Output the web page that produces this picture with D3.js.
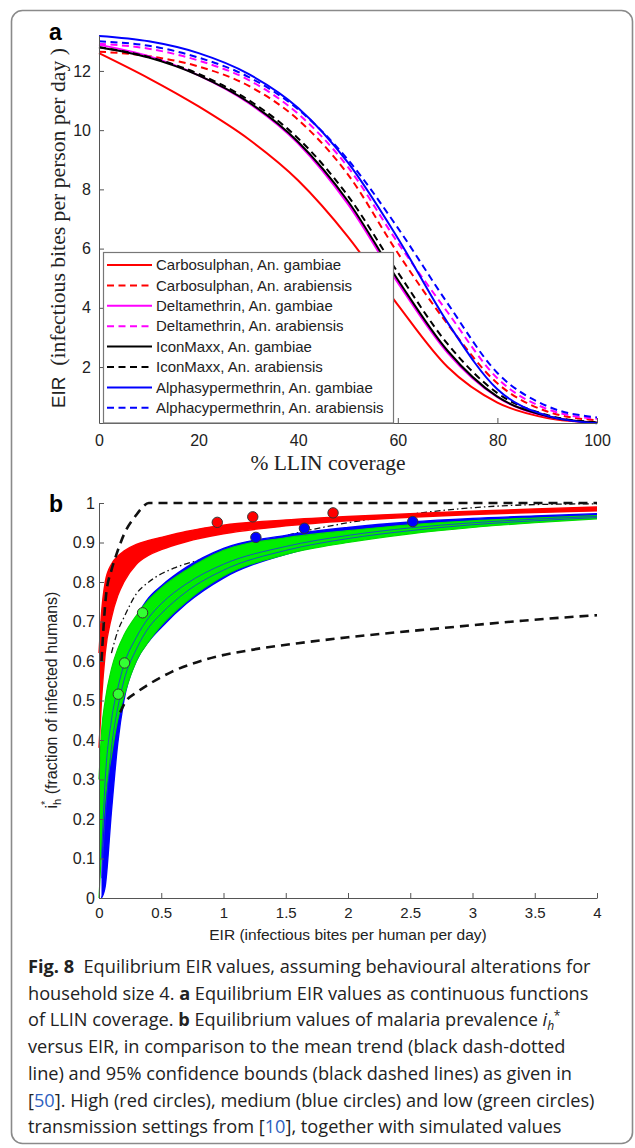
<!DOCTYPE html>
<html><head><meta charset="utf-8">
<script src="https://cdn.jsdelivr.net/npm/d3@7"></script>
<style>
body{margin:0;background:#fff}
svg{display:block}
text{white-space:pre}
</style>
</head><body>
<svg id="c" width="635" height="1148"></svg>
<script>
// ---------------- DATA: panel a ----------------
const coverage = [0,10,20,30,40,50,60,70,80,90,100];
const carbosulphanGambiae    = [12.6, 11.75, 10.8, 9.7, 8.3, 6.4, 4.1, 2.0, 0.8, 0.28, 0.12];
const carbosulphanArabiensis = [12.65, 12.5, 12.15, 11.5, 10.35, 8.5, 5.85, 3.45, 1.45, 0.5, 0.2];
const deltamethrinGambiae    = [12.88, 12.5, 11.85, 10.92, 9.55, 7.5, 4.85, 2.48, 0.98, 0.33, 0.12];
const deltamethrinArabiensis = [12.92, 12.75, 12.35, 11.7, 10.55, 8.75, 6.2, 3.85, 1.62, 0.58, 0.25];
const iconMaxxGambiae        = [12.8, 12.45, 11.85, 10.95, 9.6, 7.6, 4.95, 2.55, 1.0, 0.34, 0.12];
const iconMaxxArabiensis     = [12.8, 12.47, 11.9, 11.02, 9.72, 7.78, 5.2, 2.78, 1.12, 0.38, 0.13];
const alphaGambiae           = [13.18, 13.0, 12.6, 11.9, 10.75, 8.9, 6.35, 3.5, 1.25, 0.36, 0.1];
const alphaArabiensis        = [13.0, 12.85, 12.45, 11.8, 10.7, 9.0, 6.7, 4.15, 1.8, 0.68, 0.3];
const legendNames = ["Carbosulphan, An. gambiae","Carbosulphan, An. arabiensis","Deltamethrin, An. gambiae",
  "Deltamethrin, An. arabiensis","IconMaxx, An. gambiae","IconMaxx, An. arabiensis",
  "Alphasypermethrin, An. gambiae","Alphacypermethrin, An. arabiensis"];
const xTicksA = [0,20,40,60,80,100];
const yTicksA = [2,4,6,8,10,12];

// ---------------- DATA: panel b ----------------
const eirGrid   = [0, 0.02, 0.05, 0.1, 0.15, 0.2, 0.3, 0.4, 0.5, 0.7, 1.0, 1.5, 2.0, 2.5, 3.0, 3.5, 4.0];
const redUpper  = [0.62, 0.72, 0.80, 0.845, 0.865, 0.878, 0.895, 0.905, 0.913, 0.928, 0.944, 0.957, 0.966, 0.973, 0.979, 0.985, 0.990];
const redLower  = [0.38, 0.50, 0.62, 0.71, 0.765, 0.80, 0.845, 0.868, 0.882, 0.902, 0.922, 0.942, 0.955, 0.964, 0.971, 0.976, 0.980];
const greenUpper= [0.30, 0.42, 0.50, 0.58, 0.63, 0.665, 0.715, 0.755, 0.785, 0.83, 0.88, 0.912, 0.93, 0.945, 0.955, 0.962, 0.968];
const greenLower= [0.0, 0.12, 0.25, 0.36, 0.45, 0.51, 0.60, 0.65, 0.69, 0.75, 0.815, 0.87, 0.90, 0.922, 0.938, 0.95, 0.96];
const blueUpper = [null, 0.22, 0.40, 0.50, 0.58, 0.64, 0.71, 0.76, 0.79, 0.837, 0.885, 0.918, 0.938, 0.952, 0.961, 0.967, 0.973];
const blueLower = [null, 0.0, 0.03, 0.22, 0.39, 0.50, 0.60, 0.65, 0.685, 0.745, 0.81, 0.87, 0.905, 0.927, 0.942, 0.953, 0.962];
const blueInnerA= [null, 0.10, 0.30, 0.45, 0.53, 0.59, 0.66, 0.71, 0.745, 0.795, 0.845, 0.89, 0.918, 0.937, 0.95, 0.959, 0.966];
const blueInnerB= [null, 0.05, 0.20, 0.38, 0.48, 0.55, 0.63, 0.685, 0.72, 0.775, 0.83, 0.88, 0.91, 0.93, 0.945, 0.955, 0.963];
const meanEIR   = [0.1, 0.15, 0.2, 0.3, 0.4, 0.6, 0.8, 1.0, 1.3, 1.6, 2.0, 2.5, 3.0, 3.5, 4.0];
const meanPrev  = [0.62, 0.675, 0.71, 0.77, 0.80, 0.835, 0.855, 0.873, 0.90, 0.925, 0.95, 0.972, 0.988, 0.996, 0.998];
const upperEIR  = [0.02, 0.056, 0.1, 0.136, 0.2, 0.3, 0.337, 0.4, 4.0];
const upperPrev = [0.60, 0.765, 0.83, 0.866, 0.92, 0.97, 0.985, 1.0, 1.0];
const lowerEIR  = [0.17, 0.21, 0.3, 0.38, 0.58, 0.87, 1.22, 1.6, 2.0, 2.78, 3.4, 4.0];
const lowerPrev = [0.47, 0.495, 0.52, 0.537, 0.572, 0.605, 0.628, 0.645, 0.66, 0.684, 0.702, 0.716];
const highEIR   = [0.95, 1.235, 1.88];
const highPrev  = [0.951, 0.965, 0.975];
const mediumEIR = [1.26, 1.65, 2.52];
const mediumPrev= [0.913, 0.936, 0.953];
const lowEIR    = [0.155, 0.205, 0.35];
const lowPrev   = [0.516, 0.595, 0.722];
const xTicksB = [0,0.5,1,1.5,2,2.5,3,3.5,4];
const xTickLabelsB = ["0","0.5","1","1.5","2","2.5","3","3.5","4"];
const yTicksB = [0,0.1,0.2,0.3,0.4,0.5,0.6,0.7,0.8,0.9,1];
const yTickLabelsB = ["0","0.1","0.2","0.3","0.4","0.5","0.6","0.7","0.8","0.9","1"];

// ---------------- DRAWING ----------------
const svg = d3.select("#c");
const SANS = "'Liberation Sans', Arial, sans-serif";
const SERIF = "'Liberation Serif', 'Times New Roman', serif";
const CAP = "'Open Sans', 'Noto Sans', sans-serif";
const AX = "#555";

svg.append("rect").attr("x",11.5).attr("y",10.5).attr("width",621).attr("height",1133)
  .attr("rx",11).attr("fill","none").attr("stroke","#8a8a8a").attr("stroke-width",1.6);

// ---------- panel a ----------
const xa = d3.scaleLinear().domain([0,100]).range([99,597]);
const ya = d3.scaleLinear().domain([0.11,13.2]).range([423,35.4]);
const ga = svg.append("g");

const seriesA = [
  {v:carbosulphanGambiae, c:"#ff0000", d:null},
  {v:carbosulphanArabiensis, c:"#ff0000", d:"7,4.5"},
  {v:deltamethrinGambiae, c:"#ff00ff", d:null},
  {v:deltamethrinArabiensis, c:"#ff00ff", d:"7,4.5"},
  {v:iconMaxxGambiae, c:"#000000", d:null},
  {v:iconMaxxArabiensis, c:"#000000", d:"7,4.5"},
  {v:alphaGambiae, c:"#0000ff", d:null},
  {v:alphaArabiensis, c:"#0000ff", d:"7,4.5"}
];
const lineA = d3.line().x((d,i)=>xa(coverage[i])).y(d=>ya(d)).curve(d3.curveMonotoneX);
seriesA.forEach(s=>{
  ga.append("path").attr("d",lineA(s.v)).attr("fill","none").attr("stroke",s.c)
    .attr("stroke-width",2).attr("stroke-dasharray",s.d);
});

const axA_x = ga.append("g").attr("transform","translate(0,423)")
  .call(d3.axisBottom(xa).tickValues(xTicksA).tickSize(-5).tickSizeOuter(0).tickPadding(11.6));
const axA_y = ga.append("g").attr("transform","translate(99,0)")
  .call(d3.axisLeft(ya).tickValues(yTicksA).tickSize(-5).tickSizeOuter(0).tickPadding(8).tickFormat(d3.format("d")));
[axA_x, axA_y].forEach(a=>{
  a.selectAll("path,line").attr("stroke",AX);
  a.selectAll("text").attr("font-family",SANS).attr("font-size",16).attr("fill","#222");
});

// legend
const lg = ga.append("g");
lg.append("rect").attr("x",103.5).attr("y",252.5).attr("width",290).attr("height",170.5)
  .attr("fill","#fff").attr("stroke","#777").attr("stroke-width",1.2);
legendNames.forEach((n,i)=>{
  const y = 265 + i*20.4;
  lg.append("line").attr("x1",107).attr("x2",152).attr("y1",y).attr("y2",y)
    .attr("stroke",seriesA[i].c).attr("stroke-width",2).attr("stroke-dasharray",seriesA[i].d);
  lg.append("text").attr("x",156).attr("y",y).attr("dy","0.35em").attr("font-family",SANS)
    .attr("font-size",15).attr("fill","#222").text(n);
});

// labels a
svg.append("text").attr("x",49).attr("y",40).attr("font-family",SANS).attr("font-weight","bold")
  .attr("font-size",23).text("a");
svg.append("text").attr("x",328).attr("y",470).attr("text-anchor","middle").attr("font-family",SERIF)
  .attr("font-size",21.5).attr("fill","#222").text("% LLIN coverage");
{
  const yla = svg.append("text").attr("font-size",22).attr("fill","#222");
  yla.append("tspan").attr("font-family",SANS).attr("font-size",19).text("EIR");
  yla.append("tspan").attr("font-family",SERIF).text("  (infectious bites per person per day )");
  const tot = yla.node().getComputedTextLength();
  const s = 360/tot;
  yla.attr("text-anchor","middle")
     .attr("transform",`translate(65,228) rotate(-90) scale(${s},1)`);
}

// ---------- panel b ----------
const xb = d3.scaleLinear().domain([0,4]).range([99,597]);
const yb = d3.scaleLinear().domain([0,1]).range([898,503]);
const gb = svg.append("g");

const lineB = d3.line().x(d=>xb(d[0])).y(d=>yb(d[1])).curve(d3.curveMonotoneX);
const zip = (a,b)=>a.map((v,i)=>[v,b[i]]);
gb.append("path").attr("d",lineB(zip(meanEIR,meanPrev))).attr("fill","none").attr("stroke","#111")
  .attr("stroke-width",1.3).attr("stroke-dasharray","6,3,1.5,3");

const band = (lo,hi)=>d3.area().defined((d,i)=>lo[i]!=null && hi[i]!=null)
  .x((d,i)=>xb(eirGrid[i])).y0((d,i)=>yb(lo[i])).y1((d,i)=>yb(hi[i])).curve(d3.curveMonotoneX)(eirGrid);
const edge = (arr)=>d3.line().defined((d,i)=>arr[i]!=null)
  .x((d,i)=>xb(eirGrid[i])).y((d,i)=>yb(arr[i])).curve(d3.curveMonotoneX)(eirGrid);

gb.append("path").attr("d",band(blueLower,blueUpper)).attr("fill","#0000ff");
[blueLower,blueUpper].forEach(a=>gb.append("path").attr("d",edge(a)).attr("fill","none").attr("stroke","#0000ff").attr("stroke-width",1.4));
gb.append("path").attr("d",band(greenLower,greenUpper)).attr("fill","#00ee00");
[greenLower,greenUpper].forEach(a=>gb.append("path").attr("d",edge(a)).attr("fill","none").attr("stroke","#00dd00").attr("stroke-width",1.2));
[blueInnerA,blueInnerB].forEach(a=>gb.append("path").attr("d",edge(a)).attr("fill","none").attr("stroke","#1a2ee6").attr("stroke-width",1).attr("opacity",0.8));
gb.append("path").attr("d",band(redLower,redUpper)).attr("fill","#ff0000");
[redLower,redUpper].forEach(a=>gb.append("path").attr("d",edge(a)).attr("fill","none").attr("stroke","#ff0000").attr("stroke-width",1.4));

gb.append("path").attr("d",lineB(zip(upperEIR,upperPrev)))
  .attr("fill","none").attr("stroke","#111").attr("stroke-width",2.6).attr("stroke-dasharray","9,6");
gb.append("path").attr("d",lineB(zip(lowerEIR,lowerPrev))).attr("fill","none").attr("stroke","#111")
  .attr("stroke-width",2.6).attr("stroke-dasharray","9,6");

const dots = [[highEIR,highPrev,"#ff0000"],[mediumEIR,mediumPrev,"#0000ff"],[lowEIR,lowPrev,"#33ff33"]];
dots.forEach(([xs,ys,c])=>{
  gb.selectAll(null).data(xs).enter().append("circle")
    .attr("cx",d=>xb(d)).attr("cy",(d,i)=>yb(ys[i])).attr("r",5.2)
    .attr("fill",c).attr("stroke","#333").attr("stroke-width",1);
});

const axB_x = gb.append("g").attr("transform","translate(0,898)")
  .call(d3.axisBottom(xb).tickValues(xTicksB).tickSize(-5).tickSizeOuter(0).tickPadding(9.4)
  .tickFormat((d,i)=>xTickLabelsB[i]));
const axB_y = gb.append("g").attr("transform","translate(99,0)")
  .call(d3.axisLeft(yb).tickValues(yTicksB).tickSize(-5).tickSizeOuter(0).tickPadding(4)
  .tickFormat((d,i)=>yTickLabelsB[i]));
[axB_x, axB_y].forEach(a=>{
  a.selectAll("path,line").attr("stroke",AX);
  a.selectAll("text").attr("font-family",SANS).attr("fill","#222");
});
axB_x.selectAll("text").attr("font-size",15);
axB_y.selectAll("text").attr("font-size",16);

svg.append("text").attr("x",49).attr("y",512).attr("font-family",SANS).attr("font-weight","bold")
  .attr("font-size",23).text("b");
svg.append("text").attr("x",348).attr("y",940).attr("text-anchor","middle").attr("font-family",SANS)
  .attr("font-size",15.5).attr("fill","#222").text("EIR (infectious bites per human per day)");

// y label b : i_h^* (fraction of infected humans)
{
  const t = svg.append("text").attr("font-family",SANS).attr("font-size",16).attr("fill","#222");
  t.append("tspan").text("i");
  const ts = t.append("tspan").attr("font-size",11).attr("dy",-8).text("*");
  const th = t.append("tspan").attr("font-size",11).attr("dy",12).text("h");
  t.append("tspan").attr("dy",-4).text(" (fraction of infected humans)");
  const ws = ts.node().getComputedTextLength();
  th.attr("dx",-ws);
  const tot = t.node().getComputedTextLength() - ws;
  t.attr("text-anchor","start").attr("transform",`translate(57,${700+tot/2}) rotate(-90)`);
}

// ---------- caption ----------
const LINK = "#2e5fc0";
const captionLines = [
  [{t:"Fig. 8",b:1},{t:"  Equilibrium EIR values, assuming behavioural alterations for"}],
  [{t:"household size 4. "},{t:"a",b:1},{t:" Equilibrium EIR values as continuous functions"}],
  [{t:"of LLIN coverage. "},{t:"b",b:1},{t:" Equilibrium values of malaria prevalence "},{ih:1}],
  [{t:"versus EIR, in comparison to the mean trend (black dash-dotted"}],
  [{t:"line) and 95% confidence bounds (black dashed lines) as given in"}],
  [{t:"["},{t:"50",c:LINK},{t:"]. High (red circles), medium (blue circles) and low (green circles)"}],
  [{t:"transmission settings from ["},{t:"10",c:LINK},{t:"], together with simulated values"}]
];
const capTexts = [];
captionLines.forEach((segs,li)=>{
  const t = svg.append("text").attr("font-family",CAP).attr("font-size",18).attr("fill","#222");
  segs.forEach(s=>{
    if(s.ih){
      t.append("tspan").attr("font-style","italic").text("i");
      t.append("tspan").attr("font-size",12).attr("font-style","italic").attr("dy",4).text("h");
      t.append("tspan").attr("font-size",12).attr("dy",-10).attr("dx",-0.5).text("*");
    } else {
      t.append("tspan").attr("font-weight",s.b?"bold":"normal").attr("fill",s.c||"#222").text(s.t);
    }
  });
  capTexts.push(t);
});
const capScale = 563/capTexts[0].node().getComputedTextLength();
capTexts.forEach((t,i)=>{
  t.attr("transform",`translate(28,${973 + i*26.7}) scale(${capScale},1)`);
});
</script>
</body></html>
